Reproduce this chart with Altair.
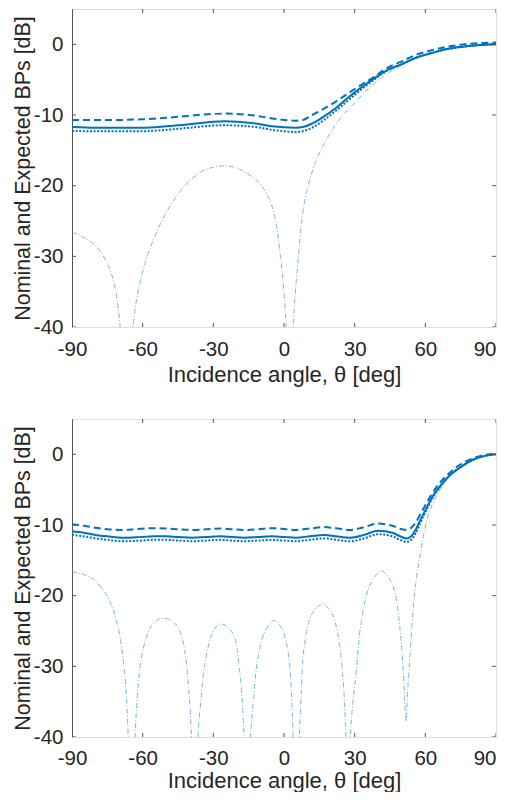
import altair as alt
import pandas as pd

# ---------------- data ----------------
# Top panel
top_solid_x = [-90, -80, -70, -60, -50, -40, -30, -25, -20, -10, -5, 0, 5, 8, 12, 17, 22, 27, 32, 37, 44, 50, 56, 63, 70, 78, 85, 90]
top_solid_y = [-11.7, -11.8, -11.8, -11.8, -11.6, -11.3, -10.95, -10.9, -10.95, -11.3, -11.6, -11.75, -11.8, -11.7, -11.2, -10.2, -9.0, -7.6, -6.3, -5.1, -3.6, -2.8, -1.9, -1.2, -0.6, -0.25, -0.05, 0.0]
top_dash_y = [-10.7, -10.7, -10.7, -10.6, -10.4, -10.1, -9.85, -9.8, -9.85, -10.2, -10.5, -10.7, -10.8, -10.7, -10.0, -9.1, -8.1, -7.0, -5.9, -4.9, -3.3, -2.4, -1.5, -0.8, -0.3, 0.05, 0.2, 0.25]
top_dot_y = [-12.25, -12.3, -12.3, -12.3, -12.1, -11.8, -11.5, -11.45, -11.5, -11.8, -12.1, -12.3, -12.4, -12.3, -11.8, -10.7, -9.4, -8.0, -6.6, -5.3, -3.7, -2.8, -1.9, -1.2, -0.65, -0.25, -0.05, 0.0]
top_af_x = [-90, -85, -80, -75, -72, -70, -68.5, -67, -65.5, -64, -62, -59, -55, -50, -45, -40, -35, -30, -25, -20, -15, -10, -5, -1.5, 0.5, 1.5, 2.4, 3.3, 4.2, 6, 8.5, 13, 18.5, 24, 30, 37, 45, 52, 60, 70, 80, 90]
top_af_y = [-26.6, -27.3, -28.5, -31.0, -34.0, -38.5, -45, -60, -45, -39.5, -35.0, -31.0, -27.3, -23.8, -21.2, -19.3, -18.0, -17.4, -17.2, -17.5, -18.4, -19.8, -23.0, -30.0, -37.5, -45, -60, -45, -38, -30.5, -22.7, -17.0, -13.2, -10.4, -8.3, -5.9, -3.9, -2.6, -1.5, -0.6, -0.15, 0.0]

# Bottom panel
bot_x = [-90, -85, -80, -75, -68, -63, -55, -50, -45, -39, -33, -27, -22, -17, -11, -5, 0, 5, 11, 17, 22, 28, 34, 40, 46, 50, 52, 54, 56, 58, 60, 63, 66, 70, 75, 80, 85, 90]
bot_solid_y = [-10.9, -11.1, -11.4, -11.6, -11.8, -11.75, -11.6, -11.6, -11.7, -11.8, -11.7, -11.6, -11.7, -11.8, -11.7, -11.6, -11.7, -11.8, -11.6, -11.4, -11.6, -11.8, -11.4, -10.8, -11.1, -11.7, -11.9, -11.6, -10.6, -9.2, -7.9, -6.0, -4.6, -3.1, -1.8, -0.8, -0.25, 0.0]
bot_dash_y = [-9.9, -10.1, -10.4, -10.6, -10.7, -10.6, -10.45, -10.5, -10.6, -10.7, -10.6, -10.5, -10.6, -10.7, -10.6, -10.45, -10.55, -10.7, -10.5, -10.3, -10.45, -10.7, -10.3, -9.8, -10.1, -10.6, -10.7, -10.4, -9.6, -8.4, -7.2, -5.5, -4.1, -2.7, -1.4, -0.6, -0.1, 0.1]
bot_dot_y = [-11.4, -11.6, -11.9, -12.1, -12.3, -12.25, -12.1, -12.1, -12.2, -12.3, -12.2, -12.1, -12.2, -12.3, -12.2, -12.1, -12.2, -12.3, -12.1, -11.9, -12.1, -12.3, -11.9, -11.3, -11.6, -12.2, -12.4, -12.1, -11.1, -9.6, -8.2, -6.2, -4.7, -3.1, -1.8, -0.8, -0.25, 0.0]
bot_af_x = [-90, -85, -80.5, -75, -70.5, -67.8, -66.6, -65.8, -64.7, -63.6, -62.8, -60.7, -58.5, -56.5, -53.5, -50.8, -48, -45.1, -43, -41.6, -40.3, -39.2, -37.9, -36.6, -35.2, -33.8, -31, -28.8, -26.7, -24, -21.1, -19, -17.7, -16.9, -15.6, -14.3, -13, -11.2, -8, -4.1, -1, 1.6, 3, 3.9, 5.2, 6.5, 7.3, 8.6, 12, 16.4, 20, 22.8, 24.9, 25.8, 26.3, 27.2, 28.1, 29, 30.6, 32.7, 36.5, 41.2, 44, 46.8, 49.7, 51, 51.8, 52.6, 53.9, 55.5, 57.4, 61, 64.5, 70, 75, 80, 85, 90]
bot_af_y = [-16.6, -17.0, -17.8, -20.1, -24.4, -30.5, -36, -45, -60, -45, -37, -29.1, -26.0, -24.4, -23.4, -23.2, -23.5, -24.4, -26.3, -29.1, -34, -40.5, -60, -40.5, -34.5, -30.1, -25.8, -24.4, -24.0, -24.4, -25.8, -30.1, -35, -40.5, -60, -40.5, -35, -29.1, -25.0, -23.5, -24.6, -27.7, -33, -40.5, -60, -40.5, -34, -27.2, -22.5, -21.2, -22.3, -25.3, -31, -36, -40.5, -60, -40.5, -36, -31, -23.9, -18.5, -16.5, -17.2, -19.2, -26.3, -33, -37.8, -33, -26.3, -19.5, -15.0, -8.9, -6.0, -3.2, -1.8, -0.8, -0.25, 0.0]

x_ticks = [-90, -60, -30, 0, 30, 60, 90]
y_ticks = [-40, -30, -20, -10, 0]

# ---------------- styling ----------------
BLUE = "#0072BD"
AF_BLUE = "#4a98d3"
FONT = "Liberation Sans"
TXT = "#262626"
AX_DARK = "#555555"

W, H = 424, 318

xscale = alt.Scale(domain=[-90, 90], nice=False, zero=False)
yscale = alt.Scale(domain=[-40, 5], nice=False, zero=False)

HYPHEN_LABEL = "'' + datum.value"


def make_axes(label_pad_x, title_pad_x):
    xaxis = alt.Axis(values=x_ticks, title="Incidence angle, θ [deg]", ticks=False, tickSize=0,
                     domain=False, grid=False, labelFontSize=20.5, titleFontSize=22,
                     labelFont=FONT, titleFont=FONT, labelColor=TXT, titleColor=TXT,
                     titleFontWeight="normal", labelPadding=label_pad_x,
                     titlePadding=title_pad_x, labelFlush=False, labelExpr=HYPHEN_LABEL,
                     labelAlign=alt.condition("datum.value == 90", alt.value("right"), alt.value("center")))
    yaxis = alt.Axis(values=y_ticks, title="Nominal and Expected BPs [dB]", ticks=False, tickSize=0,
                     domain=True, domainColor=AX_DARK, domainWidth=1, grid=False,
                     labelFontSize=20.5, titleFontSize=21.4, labelFont=FONT, titleFont=FONT,
                     labelColor=TXT, titleColor=TXT, titleFontWeight="normal",
                     labelPadding=9, titlePadding=0, labelFlush=False, labelExpr=HYPHEN_LABEL)
    return (alt.X("x:Q", scale=xscale, axis=xaxis), alt.Y("y:Q", scale=yscale, axis=yaxis))


def line_layer(X, Y, xs, ys, dash, width, color, opacity=1.0, interp="monotone"):
    df = pd.DataFrame({"x": xs, "y": ys})
    kw = dict(strokeWidth=width, color=color, opacity=opacity, clip=True, interpolate=interp)
    if dash:
        kw["strokeDash"] = dash
    return alt.Chart(df).mark_line(**kw).encode(x=X, y=Y)


def tick_layers(X, Y):
    xt_df = pd.DataFrame({"x": x_ticks * 2, "y": [-40] * len(x_ticks) + [5] * len(x_ticks)})
    yt_df = pd.DataFrame({"y": y_ticks * 2, "x": [-90] * len(y_ticks) + [90] * len(y_ticks)})
    xt = alt.Chart(xt_df).mark_tick(orient="vertical", size=8, thickness=1, color=AX_DARK,
                                    clip=True, opacity=1).encode(x=X, y=Y)
    yt = alt.Chart(yt_df).mark_tick(orient="horizontal", size=8, thickness=1, color=AX_DARK,
                                    clip=True, opacity=1).encode(x=X, y=Y)
    return [xt, yt]


def panel(af_x, af_y, sx, s_y, d_y, t_y, label_pad_x, title_pad_x):
    X, Y = make_axes(label_pad_x, title_pad_x)
    layers = [
        line_layer(X, Y, af_x, af_y, [5, 2, 1, 2], 0.8, AF_BLUE, 0.9, interp="catmull-rom"),
        line_layer(X, Y, sx, t_y, [2, 1.6], 2, BLUE),
        line_layer(X, Y, sx, d_y, [7, 4], 2, BLUE),
        line_layer(X, Y, sx, s_y, None, 2, BLUE),
    ] + tick_layers(X, Y)
    return alt.layer(*layers).properties(width=W, height=H)


top = panel(top_af_x, top_af_y, top_solid_x, top_solid_y, top_dash_y, top_dot_y, 12, 5)
bot = panel(bot_af_x, bot_af_y, bot_x, bot_solid_y, bot_dash_y, bot_dot_y, 11, 2)

chart = alt.vconcat(top, bot, spacing=32).configure_view(
    stroke="#bdbdbd", strokeWidth=1
).configure(background="white", padding={"left": 3, "top": 0, "right": 0, "bottom": 0})

chart.save("out.html", embed_options={"renderer": "svg", "actions": False})
